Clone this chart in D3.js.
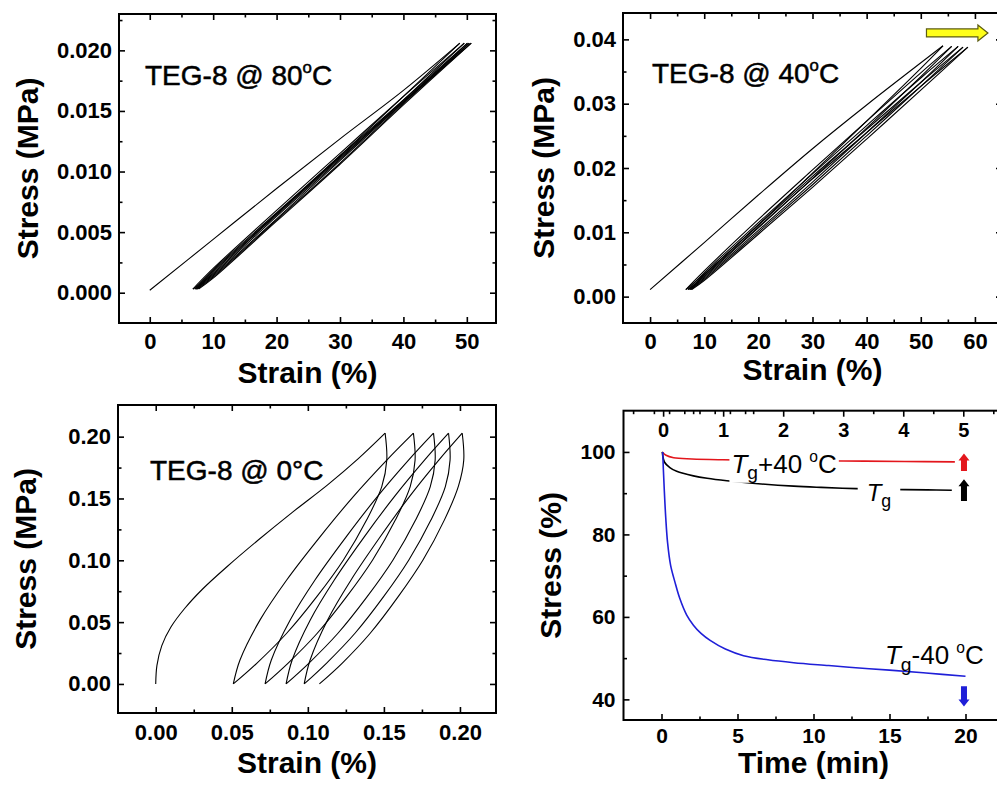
<!DOCTYPE html>
<html>
<head>
<meta charset="utf-8">
<script src="https://cdn.jsdelivr.net/npm/d3@7"></script>
<style>
	body { margin: 0; background: #fff; }
	svg { display: block; font-family: "Liberation Sans", Arial, sans-serif; }
	.tick text { font-weight: bold; fill: #000; }
	.tick line { stroke: #000; stroke-width: 1.6; }
</style>
</head>
<body>
<svg id="chart" width="997" height="786"></svg>
<script>
// ---- TEG-8 @ 80 C : first loading + cycles (strain %, stress MPa)
const p80Load = [[0,0.0002],[10,0.0044],[20,0.0086],[30,0.0127],[40,0.0167],[48.9,0.0206]];
const p80Cycles = [
	[[48.9,0.0206],[40,0.0162],[30,0.0113],[20,0.0065],[10,0.0016],[6.8,0.0003]],
	[[6.8,0.0003],[10,0.0020],[20,0.0068],[30,0.0115],[40,0.0162],[49.6,0.0206]],
	[[49.6,0.0206],[40,0.0159],[30,0.0110],[20,0.0063],[10,0.0015],[7.1,0.0003]],
	[[7.1,0.0003],[10,0.0019],[20,0.0066],[30,0.0113],[40,0.0159],[50.1,0.0206]],
	[[50.1,0.0206],[40,0.0157],[30,0.0109],[20,0.0061],[10,0.0014],[7.3,0.0003]],
	[[7.3,0.0003],[10,0.0018],[20,0.0065],[30,0.0112],[40,0.0158],[50.4,0.0206]],
	[[50.4,0.0206],[40,0.0156],[30,0.0107],[20,0.0060],[10,0.0013],[7.5,0.0003]],
	[[7.5,0.0003],[10,0.0017],[20,0.0064],[30,0.0111],[40,0.0157],[50.7,0.0206]],
	[[50.7,0.0206],[40,0.0155],[30,0.0106],[20,0.0059],[10,0.0012],[7.7,0.0003]]
];

// ---- TEG-8 @ 40 C
const p40Load = [[0,0.0011],[10,0.0084],[20,0.0158],[30,0.0230],[40,0.0298],[54.1,0.0390]];
const p40Cycles = [
	[[54.1,0.0390],[50,0.0355],[40,0.0273],[30,0.0192],[20,0.0112],[10,0.0035],[6.6,0.0011]],
	[[6.6,0.0011],[10,0.0040],[20,0.0120],[30,0.0197],[40,0.0273],[50,0.0348],[55.7,0.0389]],
	[[55.7,0.0389],[50,0.0342],[40,0.0262],[30,0.0184],[20,0.0107],[10,0.0031],[7.0,0.0011]],
	[[7.0,0.0011],[10,0.0037],[20,0.0115],[30,0.0191],[40,0.0266],[50,0.0340],[56.9,0.0389]],
	[[56.9,0.0389],[50,0.0333],[40,0.0255],[30,0.0178],[20,0.0103],[10,0.0029],[7.3,0.0011]],
	[[7.3,0.0011],[10,0.0034],[20,0.0111],[30,0.0187],[40,0.0260],[50,0.0333],[57.8,0.0388]],
	[[57.8,0.0388],[50,0.0327],[40,0.0250],[30,0.0174],[20,0.0100],[10,0.0027],[7.5,0.0011]],
	[[7.5,0.0011],[10,0.0032],[20,0.0108],[30,0.0183],[40,0.0255],[50,0.0327],[58.7,0.0388]],
	[[58.7,0.0388],[50,0.0321],[40,0.0245],[30,0.0170],[20,0.0097],[10,0.0025],[7.7,0.0011]]
];
const shiftArrow = [51.05, 62.4, 0.041]; // from strain, to strain, at stress

// ---- TEG-8 @ 0 C
const p0Load = [[0,0],[0.0008,0.015],[0.004,0.031],[0.010,0.046],[0.019,0.061],[0.031,0.077],[0.047,0.095],[0.067,0.116],[0.090,0.139],[0.113,0.161],[0.133,0.182],[0.1508,0.2028]];
const p0Cycles = [
	[[0.1508,0.2028],[0.1519,0.181],[0.1486,0.1596],[0.1387,0.1327],[0.1234,0.1003],[0.1059,0.0706],[0.0861,0.041],[0.0664,0.0167],[0.051,0]],
	[[0.051,0],[0.0554,0.0194],[0.0686,0.0518],[0.0861,0.0841],[0.108,0.119],[0.1299,0.1515],[0.1519,0.181],[0.1694,0.2028]],
	[[0.1694,0.2028],[0.1705,0.181],[0.1673,0.1596],[0.1576,0.1327],[0.1426,0.1003],[0.1255,0.0706],[0.1062,0.041],[0.0869,0.0167],[0.0719,0]],
	[[0.0719,0],[0.076,0.0194],[0.0884,0.0518],[0.1047,0.0841],[0.1252,0.119],[0.1457,0.1515],[0.1662,0.181],[0.1826,0.2028]],
	[[0.1826,0.2028],[0.1837,0.181],[0.1805,0.1596],[0.1709,0.1327],[0.156,0.1003],[0.139,0.0706],[0.1198,0.041],[0.1006,0.0167],[0.0857,0]],
	[[0.0857,0],[0.0897,0.0194],[0.1016,0.0518],[0.1174,0.0841],[0.1371,0.119],[0.1569,0.1515],[0.1767,0.181],[0.1925,0.2028]],
	[[0.1925,0.2028],[0.1935,0.181],[0.1904,0.1596],[0.181,0.1327],[0.1664,0.1003],[0.1498,0.0706],[0.131,0.041],[0.1122,0.0167],[0.0976,0]],
	[[0.0976,0],[0.1015,0.0194],[0.113,0.0518],[0.1284,0.0841],[0.1476,0.119],[0.1668,0.1515],[0.1861,0.181],[0.2015,0.2028]],
	[[0.2015,0.2028],[0.2025,0.181],[0.199,0.160],[0.1898,0.1327],[0.1757,0.1003],[0.1594,0.0706],[0.141,0.041],[0.1225,0.0167],[0.1076,0]]
];

// ---- stress relaxation (time min, stress %)
const relaxHot = [[0.05,100],[0.3,99.2],[0.8,98.6],[2,98.3],[4,98.1],[8,97.9],[12,97.8],[16,97.7],[19.3,97.6]];
const relaxTg = [[0.05,100],[0.2,97.5],[0.55,96.2],[1,95.3],[2.1,94.2],[3,93.6],[4.3,93.0],[6,92.4],[8.7,91.7],[10.5,91.4],[12.8,91.1],[15,90.9],[17.5,90.8],[19.1,90.7]];
const relaxCold = [[0.08,100],[0.12,96],[0.18,91],[0.28,84],[0.4,78],[0.6,72.5],[0.88,68.5],[1.2,64.5],[1.65,60.5],[2.1,58],[2.6,56],[3.2,54.3],[4.2,52.2],[5.4,50.6],[7,49.6],[8.7,48.9],[11,48.2],[13,47.6],[15,47.1],[17.4,46.4],[20,45.6]];
// arrows: time, tail, tip, colour
const relaxArrows = [[19.9,95.4,99.6,"#e3161c"],[19.9,88.1,93.4,"#000000"],[19.9,43.2,38.3,"#1f1fd8"]];

const svg = d3.select("#chart");

function addAxis(g, axis, transform) {
	g.append("g")
		.attr("transform", transform)
		.style("font-size", axis.fs ? axis.fs + "px" : null)
		.call(axis)
		.call((a) => a.select(".domain").remove());
}

function makePanel(cfg) {
	let g = svg.append("g");
	let x = d3.scaleLinear().domain(cfg.xDomain).range(cfg.xRange);
	let y = d3.scaleLinear().domain(cfg.yDomain).range(cfg.yRange);
	let [x0, x1] = cfg.xRange, [y0, y1] = cfg.yRange;

	let curves = g.append("g");

	// ticks: minor then major, on all four sides, all pointing inward
	addAxis(g, d3.axisBottom(x).tickValues(cfg.xMinor).tickSize(-3.5).tickFormat(""), `translate(0,${y0})`);
	addAxis(g, d3.axisTop(x).tickValues(cfg.topMinor || cfg.xMinor).tickSize(-3.5).tickFormat(""), `translate(0,${y1})`);
	addAxis(g, d3.axisLeft(y).tickValues(cfg.yMinor).tickSize(-3.5).tickFormat(""), `translate(${x0},0)`);
	addAxis(g, d3.axisRight(y).tickValues(cfg.yMinor).tickSize(-3.5).tickFormat(""), `translate(${x1},0)`);

	let bx = d3.axisBottom(x).tickValues(cfg.xMajor).tickSize(-6).tickPadding(cfg.xPad).tickFormat(cfg.xFmt);
	bx.fs = cfg.fs;
	addAxis(g, bx, `translate(0,${y0})`);
	let ly = d3.axisLeft(y).tickValues(cfg.yMajor).tickSize(-6).tickPadding(cfg.yPad).tickFormat(cfg.yFmt);
	ly.fs = cfg.fs;
	addAxis(g, ly, `translate(${x0},0)`);
	addAxis(g, d3.axisRight(y).tickValues(cfg.yMajor).tickSize(-6).tickFormat(""), `translate(${x1},0)`);

	if (cfg.topScale) {
		let xt = d3.scaleLinear().domain(cfg.topScale).range(cfg.xRange);
		addAxis(g, d3.axisBottom(xt).tickValues(cfg.topMinor).tickSize(3.5).tickFormat(""), `translate(0,${y1})`);
		let ta = d3.axisBottom(xt).tickValues(cfg.topMajor).tickSize(6).tickPadding(6).tickFormat(d3.format("d"));
		ta.fs = cfg.fs - 1;
		addAxis(g, ta, `translate(0,${y1})`);
	} else {
		addAxis(g, d3.axisTop(x).tickValues(cfg.xMajor).tickSize(-6).tickFormat(""), `translate(0,${y1})`);
	}

	g.append("rect")
		.attr("x", x0).attr("y", y1)
		.attr("width", x1 - x0).attr("height", y0 - y1)
		.attr("fill", "none").attr("stroke", "#000").attr("stroke-width", 2);

	g.append("text")
		.attr("x", (x0 + x1) / 2).attr("y", cfg.xTitleY)
		.attr("text-anchor", "middle")
		.style("font-size", "30px").style("font-weight", "bold")
		.text(cfg.xTitle);

	g.append("text")
		.attr("transform", `translate(${cfg.yTitleX},${(y0 + y1) / 2}) rotate(-90)`)
		.attr("text-anchor", "middle").attr("dy", "0.25em")
		.style("font-size", "30px").style("font-weight", "bold")
		.text(cfg.yTitle);

	return { g: g, curves: curves, x: x, y: y };
}

function drawLines(p, series, color, width) {
	let line = d3.line()
		.x((d) => p.x(d[0]))
		.y((d) => p.y(d[1]))
		.curve(d3.curveCatmullRom.alpha(0.5));
	p.curves.selectAll(null)
		.data(series)
		.enter().append("path")
		.attr("d", line)
		.attr("fill", "none")
		.attr("stroke", color)
		.attr("stroke-width", width)
		.attr("stroke-linejoin", "round");
}

// parts: [text, kind] kind = "i" italic, "sub", "sup", or plain
function richText(g, x, y, parts, size, mask, heavy) {
	let t = g.append("text").attr("x", x).attr("y", y).style("font-size", size + "px");
	if (heavy) t.attr("stroke", "#000").attr("stroke-width", 0.5);
	let shift = 0;
	parts.forEach(([s, kind]) => {
		let target = kind == "sub" ? 0.24 * size : kind == "sup" ? -0.42 * size : 0;
		let ts = t.append("tspan").attr("dy", target - shift).text(s);
		shift = target;
		if (kind == "i") ts.style("font-style", "italic");
		if (kind == "sub") ts.style("font-size", (0.74 * size) + "px");
		if (kind == "sup") ts.style("font-size", (0.6 * size) + "px");
	});
	if (mask !== undefined && mask !== null) {
		let b = t.node().getBBox();
		g.insert("rect", () => t.node())
			.attr("x", b.x - mask).attr("y", b.y + 2)
			.attr("width", b.width + 2 * mask).attr("height", b.height - 2)
			.attr("fill", "#fff");
	}
	return t;
}

const sub = "sub", sup = "sup";

// ---------- panel 1 : 80 C
let p1 = makePanel({
	xDomain: [-4.85, 54.6], xRange: [119, 496],
	yDomain: [-0.0025, 0.0230], yRange: [323, 14],
	xMajor: d3.range(0, 51, 10), xMinor: d3.range(5, 50, 10),
	yMajor: [0, 0.005, 0.010, 0.015, 0.020], yMinor: [0.0025, 0.0075, 0.0125, 0.0175, 0.0225],
	xFmt: d3.format("d"), yFmt: d3.format(".3f"), fs: 22, xPad: 10, yPad: 7,
	xTitle: "Strain (%)", xTitleY: 383, yTitle: "Stress (MPa)", yTitleX: 30
});
drawLines(p1, [p80Load], "#000", 1.1);
drawLines(p1, p80Cycles, "#000", 1.1);
richText(p1.g, 145, 85, [["TEG-8 @ 80"], ["o", sup], ["C"]], 28, null, true);

// ---------- panel 2 : 40 C
let p2 = makePanel({
	xDomain: [-5, 65], xRange: [623, 1002],
	yDomain: [-0.0041, 0.0441], yRange: [323, 13],
	xMajor: d3.range(0, 61, 10), xMinor: d3.range(5, 60, 10),
	yMajor: [0, 0.01, 0.02, 0.03, 0.04], yMinor: [0.005, 0.015, 0.025, 0.035],
	xFmt: d3.format("d"), yFmt: d3.format(".2f"), fs: 22, xPad: 10, yPad: 7,
	xTitle: "Strain (%)", xTitleY: 380, yTitle: "Stress (MPa)", yTitleX: 546
});
drawLines(p2, [p40Load], "#000", 1.1);
drawLines(p2, p40Cycles, "#000", 1.1);
richText(p2.g, 652, 83, [["TEG-8 @ 40"], ["o", sup], ["C"]], 28, null, true);

{
	let [a, b, s] = shiftArrow;
	let xa = p2.x(a), xb = p2.x(b), yc = p2.y(s);
	let hl = 10, bh = 4, hh = 8;
	p2.g.append("path")
		.attr("d", `M${xa},${yc - bh}L${xb - hl},${yc - bh}L${xb - hl},${yc - hh}L${xb},${yc}L${xb - hl},${yc + hh}L${xb - hl},${yc + bh}L${xa},${yc + bh}Z`)
		.attr("fill", "#ffff1a").attr("stroke", "#5c5c10").attr("stroke-width", 1.2);
}

// ---------- panel 3 : 0 C
let p3 = makePanel({
	xDomain: [-0.0248, 0.2237], xRange: [118, 496],
	yDomain: [-0.0235, 0.2256], yRange: [713, 405],
	xMajor: [0, 0.05, 0.10, 0.15, 0.20], xMinor: [0.025, 0.075, 0.125, 0.175],
	yMajor: [0, 0.05, 0.10, 0.15, 0.20], yMinor: [0.025, 0.075, 0.125, 0.175],
	xFmt: d3.format(".2f"), yFmt: d3.format(".2f"), fs: 22, xPad: 11, yPad: 7,
	xTitle: "Strain (%)", xTitleY: 773, yTitle: "Stress (MPa)", yTitleX: 28
});
drawLines(p3, [p0Load], "#000", 1.1);
drawLines(p3, p0Cycles, "#000", 1.1);
richText(p3.g, 150, 480, [["TEG-8 @ 0\u00b0C"]], 28, null, true);

// ---------- panel 4 : relaxation
let p4 = makePanel({
	xDomain: [-2.5, 22.5], xRange: [623.5, 1003.5],
	yDomain: [35, 110], yRange: [720, 410.7],
	xMajor: [0, 5, 10, 15, 20], xMinor: [2.5, 7.5, 12.5, 17.5],
	yMajor: [40, 60, 80, 100], yMinor: [50, 70, 90],
	topScale: [-0.66, 5.67], topMajor: [0, 1, 2, 3, 4, 5], topMinor: [-0.5, 0.5, 1.5, 2.5, 3.5, 4.5, 5.5],
	xFmt: d3.format("d"), yFmt: d3.format("d"), fs: 21, xPad: 8, yPad: 8,
	xTitle: "Time (min)", xTitleY: 773, yTitle: "Stress (%)", yTitleX: 553
});
drawLines(p4, [relaxHot], "#e3161c", 1.6);
drawLines(p4, [relaxTg], "#000", 1.6);
drawLines(p4, [relaxCold], "#1f1fd8", 1.6);

richText(p4.g, p4.x(4.6), p4.y(95.0), [["T", "i"], ["g", sub], ["+40 "], ["o", sup], ["C"]], 26, 2);
richText(p4.g, p4.x(13.5), p4.y(88.1), [["T", "i"], ["g", sub]], 24, 9);
richText(p4.g, p4.x(14.7), p4.y(48.5), [["T", "i"], ["g", sub], ["-40 "], ["o", sup], ["C"]], 26);

relaxArrows.forEach(([t, tail, tip, color]) => {
	let cx = p4.x(t), y0 = p4.y(tail), y1 = p4.y(tip);
	let dir = y1 < y0 ? 1 : -1, hl = 7, bw = 3, hw = 5.5;
	let yb = y1 + dir * hl;
	p4.g.append("path")
		.attr("d", `M${cx - bw},${y0}L${cx - bw},${yb}L${cx - hw},${yb}L${cx},${y1}L${cx + hw},${yb}L${cx + bw},${yb}L${cx + bw},${y0}Z`)
		.attr("fill", color);
});
</script>
</body>
</html>
